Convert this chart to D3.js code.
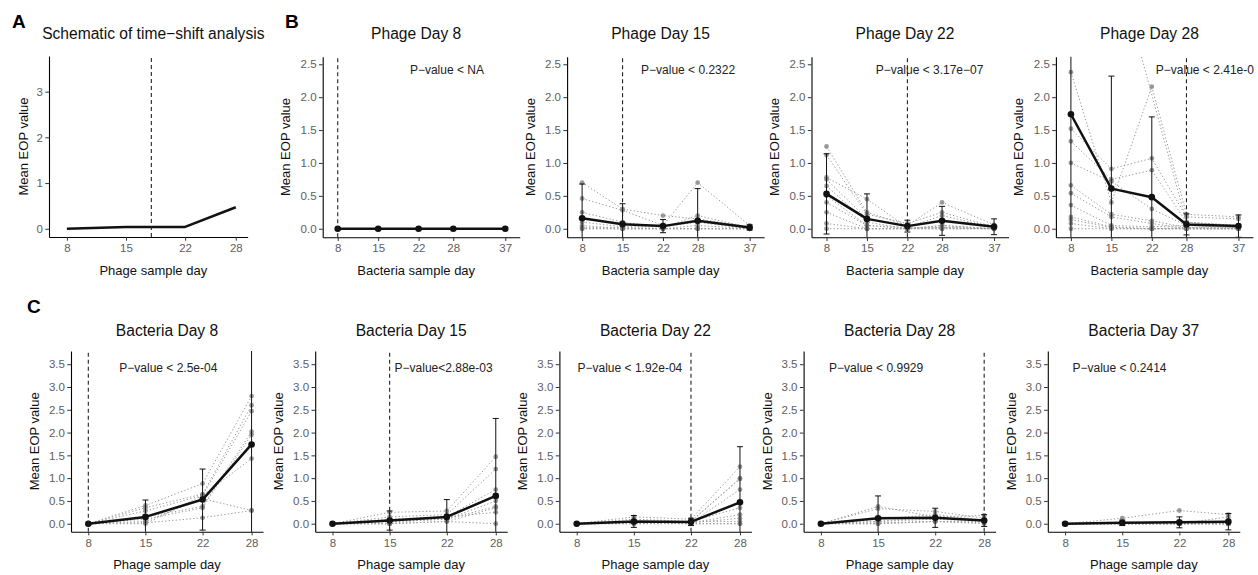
<!DOCTYPE html>
<html>
<head>
<meta charset="utf-8">
<script src="https://cdn.jsdelivr.net/npm/d3@7"></script>
<style>
  body { margin: 0; background: #fff; }
  svg { display: block; font-family: "Liberation Sans", Arial, Helvetica, sans-serif; }
</style>
</head>
<body>
<svg id="chart" width="1258" height="575"></svg>
<script>
// ---- data ----
const bacteriaDays = [8, 15, 22, 28, 37];
const phageDays = [8, 15, 22, 28];

// panel A (schematic)
const schematicValues = [0, 0.04, 0.04, 0.47];
const schematicShiftDay = 18;
const schematicTicks = [0, 1, 2, 3];

// panel B: phage fixed, bacteria sample day varies
const phageTitles = ["Phage Day 8", "Phage Day 15", "Phage Day 22", "Phage Day 28"];
const phageShiftDays = [8, 15, 22, 28];
const phagePLabels = ["P\u2212value < NA", "P\u2212value < 0.2322", "P\u2212value < 3.17e\u221207", "P\u2212value < 2.41e-0"];
const phageMeans = [
  [0, 0, 0, 0, 0],
  [0.16, 0.07, 0.04, 0.12, 0.02],
  [0.53, 0.15, 0.04, 0.12, 0.03],
  [1.74, 0.61, 0.48, 0.066, 0.04]
];
const phageErrors = [
  [0, 0, 0, 0, 0],
  [0.52, 0.31, 0.10, 0.49, 0.04],
  [0.61, 0.38, 0.09, 0.22, 0.12],
  [2.40, 1.71, 1.22, 0.16, 0.17]
];
const phageDay8Samples = [
  [0, 0, 0, 0, 0], [0, 0, 0, 0, 0], [0, 0, 0, 0, 0], [0, 0, 0, 0, 0], [0, 0, 0, 0, 0]
];
const phageDay15Samples = [
  [0.70, 0.30, 0.20, 0.15, 0.03],
  [0.46, 0.28, 0.05, 0.70, 0.05],
  [0.25, 0.10, 0.02, 0.20, 0.02],
  [0.10, 0.03, 0.03, 0.10, 0.00],
  [0.05, 0.00, 0.00, 0.05, 0.00],
  [0.02, 0.02, 0.00, 0.00, 0.00],
  [0.00, 0.00, 0.00, 0.00, 0.00],
  [0.00, 0.00, 0.00, 0.00, 0.00]
];
const phageDay22Samples = [
  [1.25, 0.25, 0.05, 0.40, 0.06],
  [1.12, 0.22, 0.08, 0.25, 0.03],
  [0.78, 0.45, 0.02, 0.20, 0.02],
  [0.75, 0.15, 0.05, 0.12, 0.05],
  [0.65, 0.10, 0.00, 0.05, 0.00],
  [0.50, 0.05, 0.02, 0.02, 0.00],
  [0.40, 0.05, 0.00, 0.00, 0.00],
  [0.25, 0.00, 0.00, 0.05, 0.00],
  [0.08, 0.00, 0.00, 0.02, 0.00],
  [0.00, 0.00, 0.00, 0.00, 0.00]
];
const phageDay28Samples = [
  [9.00, 4.30, null, 0.10, 0.05],
  [2.38, 0.40, 2.16, 0.22, 0.18],
  [1.52, 0.91, 1.07, 0.18, 0.15],
  [1.33, 0.75, 0.89, 0.10, 0.05],
  [1.00, 0.72, 0.30, 0.05, 0.02],
  [0.66, 0.22, 0.12, 0.02, 0.02],
  [0.54, 0.18, 0.08, 0.00, 0.00],
  [0.36, 0.05, 0.03, 0.05, 0.02],
  [0.18, 0.03, 0.00, 0.02, 0.00],
  [0.14, 0.02, 0.00, 0.00, 0.00],
  [0.08, 0.00, 0.00, 0.00, 0.00],
  [0.00, 0.00, 0.00, 0.00, 0.00]
];
const phageSamples = [phageDay8Samples, phageDay15Samples, phageDay22Samples, phageDay28Samples];
const phageTicks = [0, 0.5, 1, 1.5, 2, 2.5];

// panel C: bacteria fixed, phage sample day varies
const bacteriaTitles = ["Bacteria Day 8", "Bacteria Day 15", "Bacteria Day 22", "Bacteria Day 28", "Bacteria Day 37"];
const bacteriaShiftDays = [8, 15, 22, 28, 37];
const bacteriaPLabels = ["P\u2212value < 2.5e-04", "P\u2212value<2.88e-03", "P\u2212value < 1.92e-04", "P\u2212value < 0.9929", "P\u2212value < 0.2414"];
const bacteriaMeans = [
  [0, 0.15, 0.53, 1.74],
  [0, 0.07, 0.15, 0.61],
  [0, 0.05, 0.04, 0.47],
  [0, 0.12, 0.13, 0.07],
  [0, 0.02, 0.03, 0.045]
];
const bacteriaErrors = [
  [0, 0.37, 0.67, 2.20],
  [0, 0.21, 0.38, 1.70],
  [0, 0.13, 0.08, 1.22],
  [0, 0.49, 0.21, 0.13],
  [0, 0.06, 0.12, 0.18]
];
const bacteriaDay8Samples = [
  [0, 0.40, 0.88, 2.80],
  [0, 0.35, 0.65, 2.60],
  [0, 0.28, 0.62, 2.47],
  [0, 0.15, 0.38, 2.02],
  [0, 0.10, 0.35, 1.95],
  [0, 0.05, 0.55, 0.29],
  [0, 0.02, 0.13, 0.29],
  [0, 0.00, 0.62, 1.43]
];
const bacteriaDay15Samples = [
  [0, 0.25, 0.28, 1.47],
  [0, 0.15, 0.20, 1.20],
  [0, 0.10, 0.15, 0.75],
  [0, 0.05, 0.10, 0.50],
  [0, 0.05, 0.10, 0.38],
  [0, 0.00, 0.05, 0.35],
  [0, 0.00, 0.05, 0.00],
  [0, 0.00, 0.15, 0.25]
];
const bacteriaDay22Samples = [
  [0, 0.15, 0.10, 1.25],
  [0, 0.10, 0.05, 1.00],
  [0, 0.05, 0.05, 0.98],
  [0, 0.05, 0.02, 0.75],
  [0, 0.02, 0.05, 0.35],
  [0, 0.02, 0.02, 0.20],
  [0, 0.00, 0.02, 0.12],
  [0, 0.05, 0.05, 0.05],
  [0, 0.00, 0.00, 0.00],
  [0, 0.02, 0.00, 0.00]
];
const bacteriaDay28Samples = [
  [0, 0.38, 0.15, 0.18],
  [0, 0.33, 0.27, 0.12],
  [0, 0.10, 0.20, 0.08],
  [0, 0.05, 0.10, 0.05],
  [0, 0.05, 0.15, 0.05],
  [0, 0.02, 0.05, 0.02],
  [0, 0.00, 0.05, 0.05],
  [0, 0.00, 0.05, 0.00]
];
const bacteriaDay37Samples = [
  [0, 0.12, 0.29, 0.20],
  [0, 0.00, 0.00, 0.15],
  [0, 0.00, 0.00, 0.00],
  [0, 0.00, 0.00, 0.00],
  [0, 0.00, 0.00, 0.00],
  [0, 0.00, 0.00, 0.00],
  [0, 0.00, 0.00, 0.00],
  [0, 0.00, 0.00, 0.00]
];
const bacteriaSamples = [bacteriaDay8Samples, bacteriaDay15Samples, bacteriaDay22Samples, bacteriaDay28Samples, bacteriaDay37Samples];
const bacteriaTicks = [0, 0.5, 1, 1.5, 2, 2.5, 3, 3.5];

// where the p-value notes start (day, value)
const phageNoteX = [20.5, 18.2, 16.5, 22.7];
const bacteriaNoteX = [11.8, 15.6, 8.1, 9.0, 8.9];

// ---- drawing ----
const svg = d3.select("#chart");
const fmt1 = d3.format(".1f");

function drawPanel(cfg) {
  const x = d3.scaleLinear().domain(cfg.xDomain).range([0, cfg.width]);
  const y = d3.scaleLinear().domain(cfg.yDomain).range([cfg.height, 0]);
  const g = svg.append("g").attr("transform", `translate(${cfg.left},${cfg.top})`);

  g.append("clipPath").attr("id", cfg.id)
    .append("rect").attr("width", cfg.width).attr("height", cfg.height);
  const plot = g.append("g").attr("clip-path", `url(#${cfg.id})`);

  const pairs = row => cfg.days.map((d, i) => [d, row[i]]).filter(p => p[1] != null);
  const line = d3.line().x(d => x(d[0])).y(d => y(d[1]));

  const samples = cfg.samples || [];
  plot.selectAll("path.sample")
    .data(samples)
    .join("path")
    .attr("class", "sample")
    .attr("d", row => line(pairs(row)))
    .attr("fill", "none")
    .attr("stroke", "#999")
    .attr("stroke-width", 1)
    .attr("stroke-dasharray", "1.3,2.2");

  plot.selectAll("circle.sample")
    .data(samples.flatMap(pairs))
    .join("circle")
    .attr("class", "sample")
    .attr("cx", d => x(d[0]))
    .attr("cy", d => y(d[1]))
    .attr("r", 2.4)
    .attr("fill", "#7a7a7a")
    .attr("opacity", 0.75);

  plot.append("path")
    .attr("d", line(pairs(cfg.means)))
    .attr("fill", "none")
    .attr("stroke", "#111")
    .attr("stroke-width", 2.5)
    .attr("stroke-linejoin", "round");

  if (cfg.errors) {
    const bars = cfg.days.map((d, i) => ({ d, m: cfg.means[i], e: cfg.errors[i] })).filter(b => b.e > 0);
    const eb = plot.selectAll("g.err").data(bars).join("g").attr("class", "err")
      .attr("stroke", "#111").attr("stroke-width", 1);
    eb.append("line")
      .attr("x1", b => x(b.d)).attr("x2", b => x(b.d))
      .attr("y1", b => y(b.m - b.e)).attr("y2", b => y(b.m + b.e));
    eb.append("line")
      .attr("x1", b => x(b.d) - 3).attr("x2", b => x(b.d) + 3)
      .attr("y1", b => y(b.m + b.e)).attr("y2", b => y(b.m + b.e));
    eb.append("line")
      .attr("x1", b => x(b.d) - 3).attr("x2", b => x(b.d) + 3)
      .attr("y1", b => y(b.m - b.e)).attr("y2", b => y(b.m - b.e));

    plot.selectAll("circle.mean")
      .data(pairs(cfg.means))
      .join("circle")
      .attr("class", "mean")
      .attr("cx", d => x(d[0]))
      .attr("cy", d => y(d[1]))
      .attr("r", 3.3)
      .attr("fill", "#111");
  }

  plot.append("line")
    .attr("x1", x(cfg.shift)).attr("x2", x(cfg.shift))
    .attr("y1", y.range()[0]).attr("y2", y.range()[1])
    .attr("stroke", "#222")
    .attr("stroke-width", 1.1)
    .attr("stroke-dasharray", "4,3");

  if (cfg.note) {
    g.append("text")
      .attr("x", x(cfg.noteX))
      .attr("y", y(cfg.noteY))
      .attr("dy", "0.35em")
      .attr("font-size", "12px")
      .attr("fill", "#222")
      .text(cfg.note);
  }

  // axes
  const yAxis = g.append("g")
    .call(d3.axisLeft(y).tickValues(cfg.yTicks).tickFormat(cfg.yFormat).tickSize(3.7).tickPadding(2.4).tickSizeOuter(0));
  const xAxis = g.append("g")
    .attr("transform", `translate(0,${cfg.height})`)
    .call(d3.axisBottom(x).tickValues(cfg.days).tickFormat(d3.format("d")).tickSize(3.7).tickPadding(3).tickSizeOuter(0));
  [yAxis, xAxis].forEach(a => {
    a.select(".domain").attr("stroke", "#000").attr("stroke-width", 1.1);
    a.selectAll(".tick line").attr("stroke", "#333");
    a.selectAll(".tick text").attr("fill", "#5e5e5e").style("font-size", "11.5px")
      .style("font-family", "'Liberation Sans', Arial, sans-serif");
  });

  g.append("text")
    .attr("x", cfg.width / 2 + cfg.titleDx)
    .attr("y", cfg.titleY - cfg.top)
    .attr("text-anchor", "middle")
    .attr("font-size", "15.6px")
    .attr("fill", "#111")
    .text(cfg.title);

  g.append("text")
    .attr("x", cfg.width / 2 + cfg.titleDx)
    .attr("y", cfg.height + 37.5)
    .attr("text-anchor", "middle")
    .attr("font-size", "13px")
    .attr("fill", "#111")
    .text(cfg.xLabel);

  g.append("text")
    .attr("transform", `translate(${-cfg.yLabelGap},${cfg.height / 2}) rotate(-90)`)
    .attr("text-anchor", "middle")
    .attr("font-size", "13px")
    .attr("fill", "#111")
    .text("Mean EOP value");
}

// panel A
drawPanel({
  id: "clipA", left: 49, top: 56, width: 198.6, height: 181,
  xDomain: [5.88, 29.4], yDomain: [-0.18, 3.78],
  days: phageDays, means: schematicValues, shift: schematicShiftDay,
  yTicks: schematicTicks, yFormat: d3.format("d"),
  title: "Schematic of time\u2212shift analysis", titleY: 39, titleDx: 5,
  xLabel: "Phage sample day", yLabelGap: 21.5
});

// panel B
phageTitles.forEach((title, i) => {
  drawPanel({
    id: "clipB" + i, left: 322.7 + i * 244.4, top: 56.7, width: 197, height: 180.6,
    xDomain: [5.4, 39.5], yDomain: [-0.13, 2.615],
    days: bacteriaDays, samples: phageSamples[i], means: phageMeans[i], errors: phageErrors[i],
    shift: phageShiftDays[i], yTicks: phageTicks, yFormat: fmt1,
    note: phagePLabels[i], noteX: phageNoteX[i], noteY: 2.42,
    title, titleY: 39, titleDx: -5,
    xLabel: "Bacteria sample day", yLabelGap: 32.5
  });
});

// panel C
bacteriaTitles.forEach((title, i) => {
  drawPanel({
    id: "clipC" + i, left: 71 + i * 244.2, top: 351, width: 192, height: 180.7,
    xDomain: [5.88, 29.4], yDomain: [-0.175, 3.79],
    days: phageDays, samples: bacteriaSamples[i], means: bacteriaMeans[i], errors: bacteriaErrors[i],
    shift: bacteriaShiftDays[i], yTicks: bacteriaTicks, yFormat: fmt1,
    note: bacteriaPLabels[i], noteX: bacteriaNoteX[i], noteY: 3.42,
    title, titleY: 336, titleDx: 0,
    xLabel: "Phage sample day", yLabelGap: 32
  });
});

// panel letters
svg.selectAll("text.tag")
  .data([["A", 12, 28], ["B", 285, 28], ["C", 27, 313]])
  .join("text")
  .attr("class", "tag")
  .attr("x", d => d[1])
  .attr("y", d => d[2])
  .attr("font-size", "19px")
  .attr("font-weight", "bold")
  .attr("fill", "#000")
  .text(d => d[0]);
</script>
</body>
</html>
